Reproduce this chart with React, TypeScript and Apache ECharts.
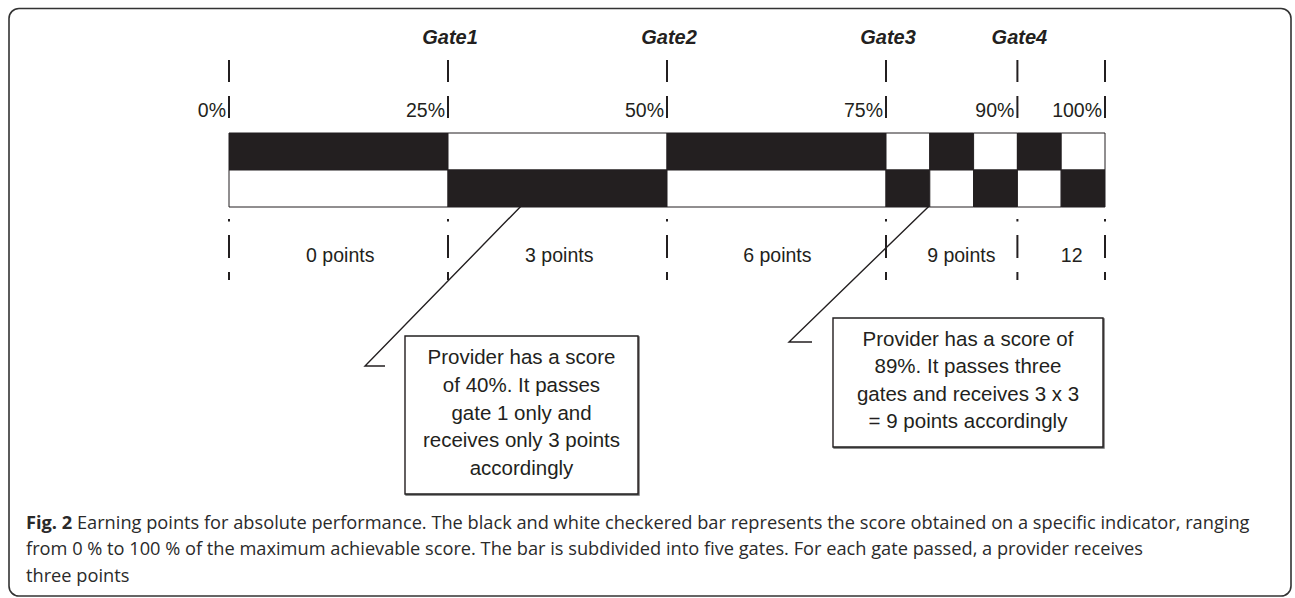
import React, { useEffect, useRef } from "react";
import * as echarts from "echarts";

// ---- data ----
const cellStarts = [0, 25, 50, 75, 80, 85, 90, 95];
const cellEnds = [25, 50, 75, 80, 85, 90, 95, 100];
const topRowBlack = [1, 0, 1, 0, 1, 0, 1, 0];
const bottomRowBlack = [0, 1, 0, 1, 0, 1, 0, 1];

const gatePositions = [0, 25, 50, 75, 90, 100];
const pctLabels = ["0%", "25%", "50%", "75%", "90%", "100%"];

const gateNames = ["Gate1", "Gate2", "Gate3", "Gate4"];
const gateNamePositions = [25, 50, 75, 90];

const pointLabels = ["0 points", "3 points", "6 points", "9 points", "12"];
const pointLabelPositions = [12.7, 37.7, 62.6, 83.6, 96.2];

const callout1Lines = ["Provider has a score", "of 40%. It passes", "gate 1 only and", "receives only 3 points", "accordingly"];
const callout2Lines = ["Provider has a score of", "89%. It passes three", "gates and receives 3 x 3", "= 9 points accordingly"];

const captionLines = [
  "Earning points for absolute performance. The black and white checkered bar represents the score obtained on a specific indicator, ranging",
  "from 0 % to 100 % of the maximum achievable score. The bar is subdivided into five gates. For each gate passed, a provider receives",
  "three points",
];

const INK = "#231f20";
const FAM = "Liberation Sans";
const CAP_FAM = "Open Sans";
const CAP_SIZE = 18.23;
const CAP_COLOR = "#2a2a2a";

export default function App() {
  const ref = useRef<HTMLDivElement>(null);

  useEffect(() => {
    document.body.style.margin = "0";
    const chart = echarts.init(ref.current!, null, { renderer: "svg" });

    const cells: number[][] = [];
    cellStarts.forEach((s, i) => {
      cells.push([s, cellEnds[i], 0, topRowBlack[i]]);
      cells.push([s, cellEnds[i], 1, bottomRowBlack[i]]);
    });

    const topDashes = [[60, 82], [96, 118]];
    const bottomDashes = [[219, 221.5], [235, 258], [272, 280]];

    const txt = (extra: any) => ({
      fill: INK,
      fontFamily: FAM,
      fontSize: 19.5,
      ...extra,
    });

    const option: any = {
      animation: false,
      backgroundColor: "#fff",
      grid: { left: 229, right: 190, top: 133, height: 74 },
      xAxis: { type: "value", min: 0, max: 100, show: false },
      yAxis: { type: "value", min: 0, max: 2, inverse: true, show: false },
      series: [
        {
          type: "custom",
          clip: false,
          data: cells,
          renderItem: (params: any, api: any) => {
            const s = api.value(0), e = api.value(1), row = api.value(2), black = api.value(3);
            const p0 = api.coord([s, row]);
            const p1 = api.coord([e, row + 1]);
            return {
              type: "rect",
              shape: { x: p0[0], y: p0[1], width: p1[0] - p0[0], height: p1[1] - p0[1] },
              style: { fill: black ? INK : "#fff", stroke: INK, lineWidth: 1 },
            };
          },
        },
        {
          type: "custom",
          clip: false,
          data: gatePositions.map((v, i) => [v, 0, i]),
          renderItem: (params: any, api: any) => {
            const x = api.coord([api.value(0), 0])[0];
            const i = api.value(2);
            const children: any[] = [];
            [...topDashes, ...bottomDashes].forEach((d) => {
              children.push({
                type: "line",
                shape: { x1: x, y1: d[0], x2: x, y2: d[1] },
                style: { stroke: INK, lineWidth: 2 },
              });
            });
            children.push({
              type: "text",
              style: txt({
                text: pctLabels[i],
                x: x - 3,
                y: 110,
                align: "right",
                verticalAlign: "middle",
              }),
            });
            return { type: "group", children };
          },
        },
        {
          type: "custom",
          clip: false,
          data: gateNamePositions.map((v, i) => [v, 0, i]),
          renderItem: (params: any, api: any) => {
            const x = api.coord([api.value(0), 0])[0];
            return {
              type: "text",
              style: txt({
                text: gateNames[api.value(2)],
                x: x + 2,
                y: 37,
                align: "center",
                verticalAlign: "middle",
                fontSize: 20,
                fontWeight: "bold",
                fontStyle: "italic",
              }),
            };
          },
        },
        {
          type: "custom",
          clip: false,
          data: pointLabelPositions.map((v, i) => [v, 0, i]),
          renderItem: (params: any, api: any) => {
            const x = api.coord([api.value(0), 0])[0];
            return {
              type: "text",
              style: txt({
                text: pointLabels[api.value(2)],
                x,
                y: 255,
                align: "center",
                verticalAlign: "middle",
              }),
            };
          },
        },
      ],
      graphic: [
        {
          type: "rect",
          shape: { x: 9, y: 8.5, width: 1282, height: 587.5, r: 10 },
          style: { fill: "none", stroke: "#333", lineWidth: 1.6 },
          silent: true,
        },
        {
          type: "polyline",
          shape: { points: [[563, 163], [365, 366], [385, 366]] },
          style: { stroke: INK, lineWidth: 1.4, fill: "none" },
        },
        {
          type: "polyline",
          shape: { points: [[990, 147], [789, 342], [812, 342]] },
          style: { stroke: INK, lineWidth: 1.4, fill: "none" },
        },
        {
          type: "rect",
          shape: { x: 405, y: 336, width: 233, height: 158 },
          style: { fill: "#fff", stroke: INK, lineWidth: 1.4, shadowColor: "rgba(0,0,0,0.6)", shadowOffsetX: 1, shadowOffsetY: 1, shadowBlur: 1 },
        },
        {
          type: "text",
          style: txt({
            text: callout1Lines.join("\n"),
            x: 521.5,
            y: 412,
            align: "center",
            verticalAlign: "middle",
            lineHeight: 27.7,
            fontSize: 20.5,
          }),
        },
        {
          type: "rect",
          shape: { x: 833, y: 318, width: 270, height: 129 },
          style: { fill: "#fff", stroke: INK, lineWidth: 1.4, shadowColor: "rgba(0,0,0,0.6)", shadowOffsetX: 1, shadowOffsetY: 1, shadowBlur: 1 },
        },
        {
          type: "text",
          style: txt({
            text: callout2Lines.join("\n"),
            x: 968,
            y: 379.5,
            align: "center",
            verticalAlign: "middle",
            lineHeight: 27.5,
            fontSize: 20.5,
          }),
        },
        {
          type: "text",
          style: {
            text: "{b|Fig. 2} " + captionLines[0],
            x: 26,
            y: 522,
            verticalAlign: "middle",
            fill: CAP_COLOR,
            fontFamily: CAP_FAM,
            fontSize: CAP_SIZE,
            rich: {
              b: { fontWeight: "bold", fontSize: CAP_SIZE, fontFamily: CAP_FAM, fill: CAP_COLOR },
            },
          },
        },
        {
          type: "text",
          style: {
            text: captionLines[1],
            x: 26,
            y: 548,
            verticalAlign: "middle",
            fill: CAP_COLOR,
            fontFamily: CAP_FAM,
            fontSize: CAP_SIZE,
          },
        },
        {
          type: "text",
          style: {
            text: captionLines[2],
            x: 26,
            y: 574.5,
            verticalAlign: "middle",
            fill: CAP_COLOR,
            fontFamily: CAP_FAM,
            fontSize: CAP_SIZE,
          },
        },
      ],
    };

    chart.setOption(option);
    return () => chart.dispose();
  }, []);

  return <div ref={ref} style={{ width: 1295, height: 598 }} />;
}
